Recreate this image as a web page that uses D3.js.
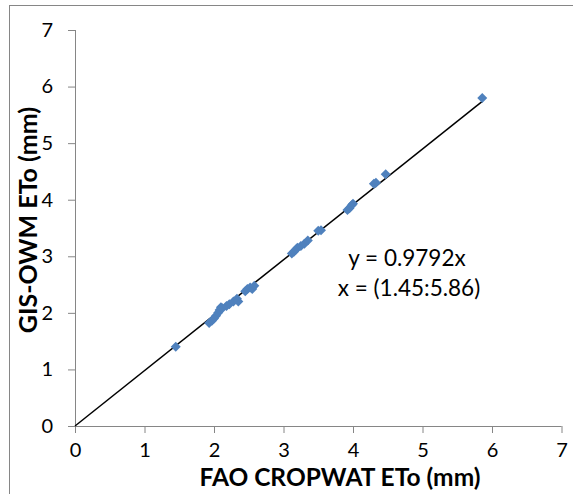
<!DOCTYPE html>
<html><head><meta charset="utf-8">
<script src="https://cdn.jsdelivr.net/npm/d3@7"></script>
<style>body{margin:0;background:#fff}svg{display:block}</style>
</head><body>
<script>
const fao = [1.45,1.93,1.97,2.00,2.03,2.06,2.08,2.10,2.12,2.18,2.22,2.28,2.33,2.35,2.45,2.48,2.52,2.55,2.58,
  3.12,3.15,3.18,3.20,3.25,3.30,3.35,3.50,3.54,3.92,3.95,3.98,4.00,4.30,4.33,4.47,5.86];
const gis = [1.40,1.82,1.86,1.90,1.95,2.00,2.05,2.10,2.08,2.12,2.15,2.20,2.25,2.20,2.38,2.42,2.45,2.42,2.48,
  3.05,3.08,3.12,3.15,3.18,3.22,3.28,3.45,3.46,3.82,3.85,3.90,3.93,4.28,4.30,4.45,5.80];
const slope = 0.9792;
const xRange = [0, 5.86];
const ticks = [0,1,2,3,4,5,6,7];
const xTitle = "FAO CROPWAT ETo (mm)";
const yTitle = "GIS-OWM ETo (mm)";
const eqLines = ["y = 0.9792x", "x = (1.45:5.86)"];

const W=573,H=494;
const svg=d3.select("body").append("svg").attr("width",W).attr("height",H);
const font="Lato, 'Open Sans', sans-serif";
svg.append("rect").attr("x",9.5).attr("y",5.5).attr("width",700).attr("height",700)
  .attr("fill","none").attr("stroke","#868686").attr("stroke-width",1);

const x=d3.scaleLinear().domain([0,7]).range([75,561.5]);
const y=d3.scaleLinear().domain([0,7]).range([426,30]);

const gx=svg.append("g").attr("transform","translate(0,426)")
  .call(d3.axisBottom(x).tickValues(ticks).tickSize(7).tickPadding(10).tickFormat(d3.format("d")));
const gy=svg.append("g").attr("transform","translate(75,0)")
  .call(d3.axisLeft(y).tickValues(ticks).tickSize(7).tickPadding(15).tickFormat(d3.format("d")));
[gx,gy].forEach(g=>{
  g.select(".domain").attr("stroke","#868686");
  g.selectAll(".tick line").attr("stroke","#868686");
  g.selectAll(".tick text").attr("font-family",font).attr("font-size",20).attr("fill","#000");
});
gx.select(".domain").attr("d","M75.5,0.5H561.5");
gy.select(".domain").attr("d","M0.5,30H0.5V426");

// trendline
svg.append("line").attr("x1",x(xRange[0])).attr("y1",y(xRange[0]*slope))
  .attr("x2",x(xRange[1])).attr("y2",y(xRange[1]*slope))
  .attr("stroke","#000").attr("stroke-width",1.5);

const sym=d3.symbol().type(d3.symbolSquare).size(50);
svg.append("g").selectAll("path").data(fao.map((v,i)=>[v,gis[i]])).join("path")
  .attr("d",sym).attr("fill","#4F81BD")
  .attr("transform",d=>`translate(${x(d[0])},${y(d[1])}) rotate(45)`);

svg.append("text").attr("x",407).attr("y",266).attr("text-anchor","middle")
  .attr("font-family",font).attr("font-size",22.5).text(eqLines[0]);
svg.append("text").attr("x",409).attr("y",296).attr("text-anchor","middle")
  .attr("font-family",font).attr("font-size",22.5).text(eqLines[1]);

svg.append("text").attr("x",340).attr("y",486).attr("text-anchor","middle")
  .attr("font-family",font).attr("font-size",24.5).attr("font-weight","bold").text(xTitle);
svg.append("text").attr("transform","translate(37,220) rotate(-90)").attr("text-anchor","middle")
  .attr("font-family",font).attr("font-size",25).attr("font-weight","bold").text(yTitle);
</script>
</body></html>
